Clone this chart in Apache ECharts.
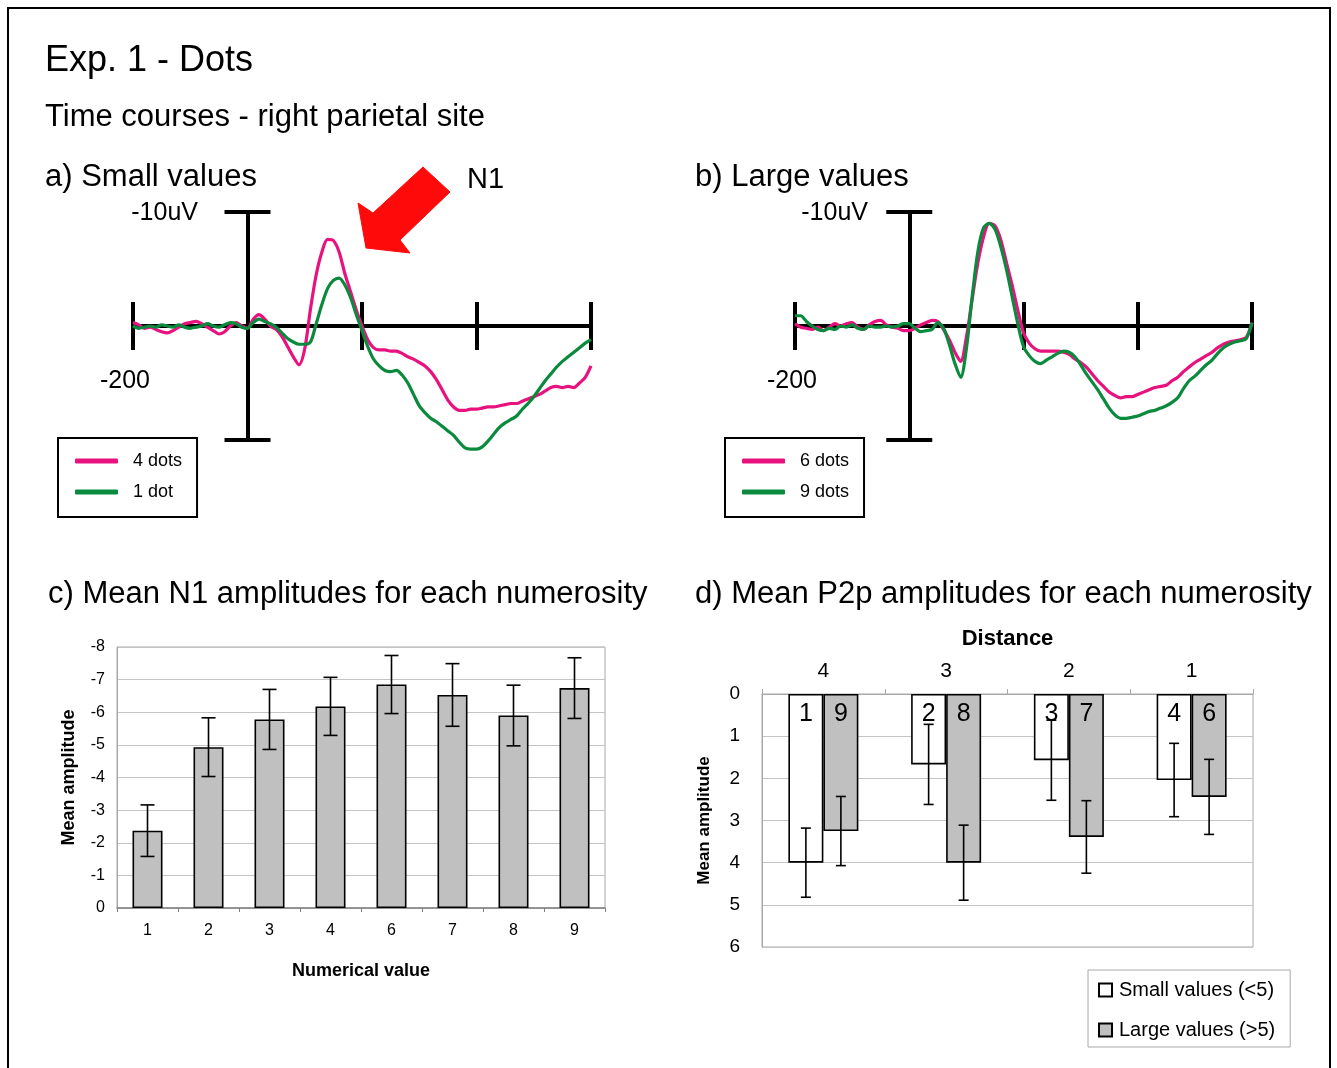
<!DOCTYPE html>
<html>
<head>
<meta charset="utf-8">
<script src="https://cdn.jsdelivr.net/npm/echarts@6/dist/echarts.min.js"></script>
<style>
html,body{margin:0;padding:0;background:#fff;}
#chart{width:1337px;height:1068px;}
</style>
</head>
<body>
<div id="chart"></div>
<script>
// ---------- DATA ----------
const TIMES = [-200,-190,-180,-170,-160,-150,-140,-130,-120,-110,-100,-90,-80,-70,-60,-50,-40,-30,-20,-10,
  0,10,20,30,40,50,60,70,80,90,100,110,120,130,140,150,160,170,180,190,
  200,210,220,230,240,250,260,270,280,290,300,310,320,330,340,350,360,370,380,390,
  400,410,420,430,440,450,460,470,480,490,500,510,520,530,540,550,560,570,580,590,600];
const TIME_LABEL = '-200';
const VOLT_LABEL = '-10uV';

// Panel a (small values), microvolts
const dots4 = [-0.3,-0.1,0.2,0.1,0.3,0.5,0.6,0.4,0.1,-0.2,-0.3,-0.4,-0.2,0.1,0.4,0.7,0.5,0.0,-0.3,0.0,
  0.2,-0.6,-1.0,-0.6,0.0,0.3,0.9,1.8,2.7,3.4,2.0,-1.5,-4.5,-6.5,-7.6,-7.5,-6.5,-4.6,-3.0,-1.4,
  0.0,1.2,1.9,2.1,2.1,2.2,2.2,2.4,2.7,2.9,3.2,3.5,4.0,4.7,5.6,6.5,7.1,7.4,7.4,7.3,
  7.3,7.2,7.1,7.1,7.0,6.9,6.8,6.8,6.6,6.4,6.2,6.0,5.7,5.4,5.3,5.4,5.3,5.4,5.0,4.5,3.5];
const dots1 = [0.0,0.2,0.1,0.0,0.1,-0.1,0.0,0.1,-0.1,0.1,0.2,0.1,0.0,-0.2,0.0,0.1,-0.1,-0.3,-0.2,0.1,
  0.2,-0.3,-0.6,-0.4,-0.2,0.1,0.6,1.1,1.4,1.6,1.6,1.4,-0.2,-1.9,-3.3,-4.0,-4.2,-3.6,-2.5,-1.0,
  0.4,1.8,2.9,3.5,3.9,4.0,3.9,4.3,5.0,6.0,7.0,7.6,8.1,8.4,8.8,9.2,9.6,10.2,10.7,10.8,
  10.8,10.6,10.1,9.5,8.9,8.5,8.2,7.9,7.3,6.8,6.2,5.5,4.8,4.2,3.6,3.1,2.7,2.3,1.9,1.5,1.2];

// Panel b (large values)
const dots6 = [-0.2,0.1,0.2,0.3,0.1,0.4,0.1,-0.2,0.0,-0.2,-0.3,0.1,0.3,-0.1,-0.4,-0.5,-0.1,0.1,0.2,0.4,
  0.4,0.2,-0.1,-0.3,-0.5,-0.4,0.3,1.2,2.3,3.1,1.0,-2.3,-5.5,-7.8,-9.0,-8.8,-7.6,-5.6,-3.6,-1.4,
  0.6,1.5,2.0,2.2,2.2,2.2,2.2,2.3,2.5,2.9,3.2,3.6,4.2,4.8,5.3,5.8,6.1,6.3,6.2,6.2,
  6.0,5.8,5.6,5.4,5.3,5.2,4.8,4.5,4.0,3.6,3.2,2.9,2.6,2.3,1.9,1.6,1.4,1.3,1.2,1.0,-0.3];
const dots9 = [-0.9,-0.9,-0.4,0.0,0.3,0.4,0.2,0.3,0.0,0.1,-0.1,0.2,0.3,0.0,0.1,0.1,0.0,0.1,0.0,-0.2,
  -0.2,0.2,0.5,0.4,0.3,-0.3,0.2,1.6,3.3,4.5,2.0,-2.5,-6.5,-8.6,-9.0,-8.5,-7.0,-5.0,-2.6,-0.2,
  1.8,2.6,3.1,3.3,3.0,2.7,2.4,2.2,2.3,2.7,3.4,4.2,4.9,5.6,6.4,7.2,7.8,8.1,8.1,8.0,
  7.9,7.7,7.5,7.4,7.2,7.0,6.7,6.3,5.5,4.8,4.4,3.9,3.4,3.0,2.4,1.9,1.6,1.4,1.3,1.1,-0.3];

// Panel c: mean N1 amplitudes
const n1Cats = ['1','2','3','4','6','7','8','9'];
const n1Mean = [-2.37,-4.93,-5.78,-6.18,-6.85,-6.53,-5.90,-6.74];
const n1Err  = [0.79,0.90,0.92,0.89,0.89,0.96,0.93,0.93];

// Panel d: mean P2p amplitudes by distance
const distCats = ['4','3','2','1'];
const p2Small    = [4.00,1.67,1.57,2.04];
const p2SmallErr = [0.82,0.95,0.95,0.87];
const p2Large    = [3.25,4.00,3.39,2.44];
const p2LargeErr = [0.82,0.89,0.86,0.89];
const smallNums = ['1','2','3','4'];
const largeNums = ['9','8','7','6'];

// ---------- STYLE ----------
const FONT = 'Liberation Sans, Arial, sans-serif';
const PINK = '#e8127f';
const GREEN = '#0b8a3e';
const BAR_GRAY = '#c0c0c0';
const P2_BAR_W = 35;

const chart = echarts.init(document.getElementById('chart'), null, {renderer:'canvas'});

function pairs(arr){ return TIMES.map((t,i)=>[t, arr[i]]); }

function erpAxes(gridIndex){
  const common = {gridIndex, type:'value', min:-200, max:600, interval:200,
    axisLine:{show:true, onZero:true, lineStyle:{color:'#000', width:4}},
    splitLine:{show:false}, axisLabel:{show:false}};
  return [
    Object.assign({}, common, {position:'bottom',
      axisTick:{show:true, inside:false, length:24, lineStyle:{color:'#000', width:4}}}),
    Object.assign({}, common, {position:'bottom',
      axisTick:{show:true, inside:true, length:24, lineStyle:{color:'#000', width:4}}})
  ];
}
function erpYAxes(gridIndex){
  const common = {gridIndex, type:'value', min:-10, max:10, interval:20, inverse:true,
    axisLine:{show:true, onZero:true, lineStyle:{color:'#000', width:4}},
    splitLine:{show:false}, axisLabel:{show:false}};
  return [
    Object.assign({}, common, {position:'left',
      axisTick:{show:true, inside:false, length:23, lineStyle:{color:'#000', width:4}}}),
    Object.assign({}, common, {position:'left',
      axisTick:{show:true, inside:true, length:23, lineStyle:{color:'#000', width:4}}})
  ];
}

function errBar(xAxisIndex, yAxisIndex, means, errs, offset, capHalf){
  return {
    type:'custom', xAxisIndex, yAxisIndex, z:5, silent:true,
    data: means.map((m,i)=>[i, m-errs[i], m+errs[i]]),
    encode:{x:0, y:[1,2]},
    renderItem:function(params, api){
      const a = api.coord([api.value(0), api.value(1)]);
      const b = api.coord([api.value(0), api.value(2)]);
      const x = a[0] + offset;
      const st = {stroke:'#000', lineWidth:1.6};
      return {type:'group', children:[
        {type:'line', shape:{x1:x, y1:a[1], x2:x, y2:b[1]}, style:st},
        {type:'line', shape:{x1:x-capHalf, y1:a[1], x2:x+capHalf, y2:a[1]}, style:st},
        {type:'line', shape:{x1:x-capHalf, y1:b[1], x2:x+capHalf, y2:b[1]}, style:st}
      ]};
    }
  };
}

const excelLabel = {color:'#000', fontSize:16, fontFamily:FONT};

function txt(text, x, y, size, align){
  return {type:'text', x, y, style:{text, fontSize:size, fontFamily:FONT,
    fill:'#000', verticalAlign:'middle', align:align||'left'}};
}

const erpLegend = {orient:'vertical', icon:'roundRect',
  itemWidth:43, itemHeight:5, itemGap:13, padding:[14,15,16,17],
  borderColor:'#000', borderWidth:2, selectedMode:false,
  textStyle:{fontSize:18, color:'#000', fontFamily:FONT, padding:[0,0,0,10]}};

const option = {
  backgroundColor:'#fff',
  animation:false,
  textStyle:{fontFamily:FONT},
  grid:[
    {left:133, top:212, width:458, height:228},
    {left:795, top:212, width:457, height:228},
    {left:117, top:647, width:488, height:261, show:true, borderColor:'#a8a8a8', borderWidth:1, backgroundColor:'#fff'},
    {left:762, top:694, width:491, height:253, show:true, borderColor:'#a8a8a8', borderWidth:1, backgroundColor:'#fff'}
  ],
  xAxis:[
    ...erpAxes(0),
    ...erpAxes(1),
    {gridIndex:2, type:'category', data:n1Cats, position:'bottom',
      name:'Numerical value', nameLocation:'middle', nameGap:54,
      nameTextStyle:{fontSize:18, fontWeight:'bold', color:'#000', fontFamily:FONT},
      axisLine:{lineStyle:{color:'#808080', width:1.5}},
      axisTick:{show:true, length:4, lineStyle:{color:'#808080'}},
      axisLabel:Object.assign({margin:15}, excelLabel)},
    {gridIndex:3, type:'category', data:distCats, position:'top',
      name:'Distance', nameLocation:'middle', nameGap:44,
      nameTextStyle:{fontSize:22, fontWeight:'bold', color:'#000', fontFamily:FONT},
      axisLine:{lineStyle:{color:'#a8a8a8', width:1}},
      axisTick:{show:true, length:5, lineStyle:{color:'#a8a8a8'}},
      axisLabel:{margin:12, color:'#000', fontSize:21, fontFamily:FONT}}
  ],
  yAxis:[
    ...erpYAxes(0),
    ...erpYAxes(1),
    {gridIndex:2, type:'value', min:-8, max:0, interval:1, inverse:true,
      name:'Mean amplitude', nameLocation:'middle', nameGap:39, nameRotate:90,
      nameTextStyle:{fontSize:18, fontWeight:'bold', color:'#000', fontFamily:FONT},
      axisLine:{show:true, lineStyle:{color:'#a8a8a8'}},
      axisTick:{show:false},
      splitLine:{show:true, lineStyle:{color:'#c4c4c4', width:1}},
      axisLabel:Object.assign({margin:12}, excelLabel)},
    {gridIndex:3, type:'value', min:0, max:6, interval:1, inverse:true,
      name:'Mean amplitude', nameLocation:'middle', nameGap:49, nameRotate:90,
      nameTextStyle:{fontSize:17, fontWeight:'bold', color:'#000', fontFamily:FONT},
      axisLine:{show:true, lineStyle:{color:'#a8a8a8'}},
      axisTick:{show:false},
      splitLine:{show:true, lineStyle:{color:'#c4c4c4', width:1}},
      axisLabel:{margin:22, color:'#000', fontSize:19, fontFamily:FONT}}
  ],
  legend:[
    Object.assign({data:['4 dots','1 dot'], left:58, top:438}, erpLegend),
    Object.assign({data:['6 dots','9 dots'], left:725, top:438}, erpLegend),
    {data:['Small values (<5)','Large values (>5)'], left:1088, top:970, orient:'vertical', icon:'rect',
      itemWidth:13, itemHeight:13, itemGap:20, padding:[10,15,7,10],
      borderColor:'#a8a8a8', borderWidth:1, selectedMode:false,
      textStyle:{fontSize:20, color:'#000', fontFamily:FONT, padding:[0,0,0,2]}}
  ],
  series:[
    {name:'4 dots', type:'line', xAxisIndex:0, yAxisIndex:0, data:pairs(dots4), showSymbol:false, clip:false,
      smooth:0.3, color:PINK, lineStyle:{color:PINK, width:3.2}, z:3},
    {name:'1 dot', type:'line', xAxisIndex:0, yAxisIndex:0, data:pairs(dots1), showSymbol:false, clip:false,
      smooth:0.3, color:GREEN, lineStyle:{color:GREEN, width:3.2}, z:4},
    {name:'6 dots', type:'line', xAxisIndex:2, yAxisIndex:2, data:pairs(dots6), showSymbol:false, clip:false,
      smooth:0.3, color:PINK, lineStyle:{color:PINK, width:3.2}, z:3},
    {name:'9 dots', type:'line', xAxisIndex:2, yAxisIndex:2, data:pairs(dots9), showSymbol:false, clip:false,
      smooth:0.3, color:GREEN, lineStyle:{color:GREEN, width:3.2}, z:4},
    {name:'N1 mean', type:'bar', xAxisIndex:4, yAxisIndex:4, data:n1Mean, barWidth:30,
      itemStyle:{color:BAR_GRAY, borderColor:'#000', borderWidth:1.6}},
    errBar(4, 4, n1Mean, n1Err, 0, 7),
    {name:'Small values (<5)', type:'bar', xAxisIndex:5, yAxisIndex:5, data:p2Small, barWidth:P2_BAR_W, barGap:'0%',
      itemStyle:{color:'#fff', borderColor:'#000', borderWidth:1.6},
      label:{show:true, position:'insideTop', distance:8, fontSize:25, color:'#000', fontFamily:FONT,
        formatter:p=>smallNums[p.dataIndex]}},
    {name:'Large values (>5)', type:'bar', xAxisIndex:5, yAxisIndex:5, data:p2Large, barWidth:P2_BAR_W, barGap:'0%',
      itemStyle:{color:BAR_GRAY, borderColor:'#000', borderWidth:1.6},
      label:{show:true, position:'insideTop', distance:8, fontSize:25, color:'#000', fontFamily:FONT,
        formatter:p=>largeNums[p.dataIndex]}},
    errBar(5, 5, p2Small, p2SmallErr, -P2_BAR_W/2, 5),
    errBar(5, 5, p2Large, p2LargeErr, P2_BAR_W/2, 5)
  ],
  graphic:[
    {type:'rect', shape:{x:8, y:8, width:1322, height:1090}, style:{fill:'none', stroke:'#000', lineWidth:2}, z:-1},
    txt('Exp. 1 - Dots', 45, 61, 36),
    txt('Time courses - right parietal site', 45, 117, 31),
    txt('a) Small values', 45, 177, 31),
    txt('b) Large values', 695, 177, 31),
    txt('N1', 467, 180, 29),
    txt('c) Mean N1 amplitudes for each numerosity', 48, 594, 31),
    txt('d) Mean P2p amplitudes for each numerosity', 695, 594, 31),
    txt(VOLT_LABEL, 198, 213, 25, 'right'),
    txt(TIME_LABEL, 125, 381, 25, 'center'),
    txt(VOLT_LABEL, 868, 213, 25, 'right'),
    txt(TIME_LABEL, 792, 381, 25, 'center'),
    {type:'polygon', shape:{points:[[366,248],[358,203],[373,213],[423,167],[450,192],[400,240],[410,253]]},
      style:{fill:'#ff0a0a', stroke:'#ff0a0a', lineWidth:1}, z:10}
  ]
};
chart.setOption(option);
</script>
</body>
</html>
